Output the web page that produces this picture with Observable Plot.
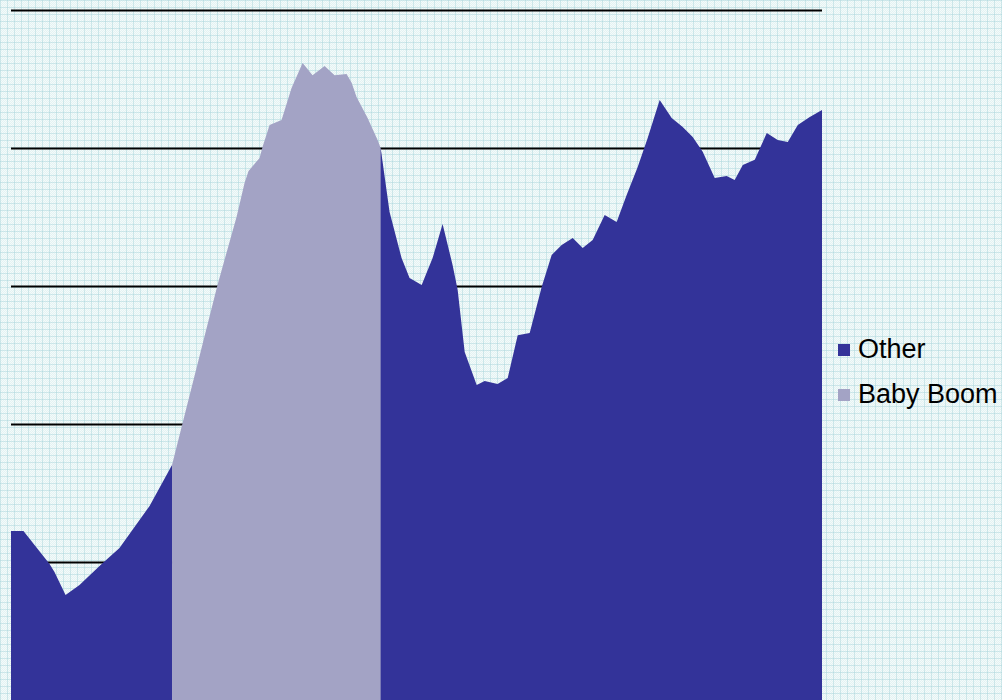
<!DOCTYPE html>
<html>
<head>
<meta charset="utf-8">
<script src="https://cdn.jsdelivr.net/npm/d3@7"></script>
<script src="https://cdn.jsdelivr.net/npm/@observablehq/plot@0.6"></script>
<style>
  html, body { margin: 0; padding: 0; }
  body {
    width: 1002px; height: 700px; overflow: hidden; position: relative;
    background-color: #ecf7f7;
    background-image:
      linear-gradient(to right, rgba(165,212,218,0.45) 1px, transparent 1px),
      linear-gradient(to bottom, rgba(165,212,218,0.45) 1px, transparent 1px),
      repeating-conic-gradient(#e3f3f3 0 25%, #f4fafa 0 50%);
    background-size: 7px 7px, 7px 7px, 2px 2px;
  }
  #chart { position: absolute; left: 0; top: 0; }
  .legend { position: absolute; left: 838px; font-family: "Liberation Sans", Arial, sans-serif;
            font-size: 27px; color: #000; line-height: 1; }
  .legend .item { position: absolute; left: 0; white-space: nowrap; display: flex; align-items: center; }
  .legend .sw { width: 12px; height: 12px; margin-right: 8px; display: inline-block; }
</style>
</head>
<body>
<div id="chart"></div>
<div class="legend">
  <div class="item" style="top:336px"><span class="sw" style="background:#333399"></span>Other</div>
  <div class="item" style="top:381px"><span class="sw" style="background:#a3a3c5"></span>Baby Boom</div>
</div>
<script>
// Years (x) and values (millions)
const otherEarlyYears = [1932.00, 1933.06, 1935.28, 1935.70, 1936.64, 1937.83, 1939.62, 1941.23, 1943.79, 1945.70];
const otherEarlyValues = [2.612, 2.612, 2.493, 2.464, 2.380, 2.417, 2.489, 2.551, 2.703, 2.851];

const boomYears = [1945.70, 1946.60, 1949.57, 1951.19, 1951.87, 1952.21, 1953.15, 1953.40, 1954.00, 1955.02,
                   1955.87, 1956.81, 1957.66, 1958.68, 1959.53, 1960.55, 1960.98, 1961.40, 1962.34, 1963.19, 1963.45, 1963.62];
const boomValues = [2.851, 3.004, 3.504, 3.750, 3.873, 3.917, 3.964, 4.004, 4.083, 4.101,
                    4.217, 4.308, 4.264, 4.297, 4.264, 4.268, 4.236, 4.185, 4.109, 4.029, 4.000, 3.930];

const otherLateYears = [1963.45, 1964.21, 1965.23, 1965.91, 1966.94, 1967.87, 1968.72, 1969.57, 1970.00, 1970.60,
                        1971.62, 1972.30, 1973.40, 1974.26, 1975.11, 1976.13, 1977.15, 1978.00, 1978.85, 1979.79,
                        1980.64, 1981.49, 1982.51, 1983.53, 1984.38, 1985.32, 1986.17, 1987.19, 1988.21, 1989.15,
                        1990.00, 1990.85, 1991.87, 1992.89, 1993.57, 1994.26, 1995.28, 1996.30, 1997.23, 1998.09,
                        1998.94, 1999.96, 2001.00];
const otherLateValues = [4.000, 3.768, 3.601, 3.529, 3.504, 3.601, 3.725, 3.576, 3.486, 3.261,
                         3.141, 3.156, 3.145, 3.167, 3.322, 3.330, 3.496, 3.612, 3.649, 3.674,
                         3.638, 3.667, 3.757, 3.732, 3.830, 3.931, 4.036, 4.174, 4.109, 4.076,
                         4.040, 3.986, 3.891, 3.899, 3.884, 3.938, 3.957, 4.054, 4.029, 4.022,
                         4.083, 4.112, 4.138];

const gridValues = [2.5, 3.0, 3.5, 4.0, 4.5];
const seriesNames = ["Other", "Baby Boom"];
const seriesColors = ["#333399", "#a3a3c5"];

const rows = [];
otherEarlyYears.forEach((y, i) => rows.push({year: y, value: otherEarlyValues[i], series: "Other", part: "early"}));
boomYears.forEach((y, i) => rows.push({year: y, value: boomValues[i], series: "Baby Boom", part: "boom"}));
otherLateYears.forEach((y, i) => rows.push({year: y, value: otherLateValues[i], series: "Other", part: "late"}));

const chart = Plot.plot({
  width: 1002,
  height: 700,
  marginLeft: 11,
  marginRight: 180,
  marginTop: 10,
  marginBottom: 0,
  style: {background: "transparent", overflow: "hidden"},
  x: {domain: [1932, 2001], axis: null},
  y: {domain: [2.0, 4.5], axis: null},
  color: {domain: seriesNames, range: seriesColors},
  marks: [
    Plot.ruleY(gridValues, {stroke: "#000", strokeWidth: 2}),
    Plot.areaY(rows, {x: "year", y1: 2.0, y2: "value", z: "part", fill: "series", curve: "linear"})
  ]
});
document.getElementById("chart").appendChild(chart);
</script>
</body>
</html>
